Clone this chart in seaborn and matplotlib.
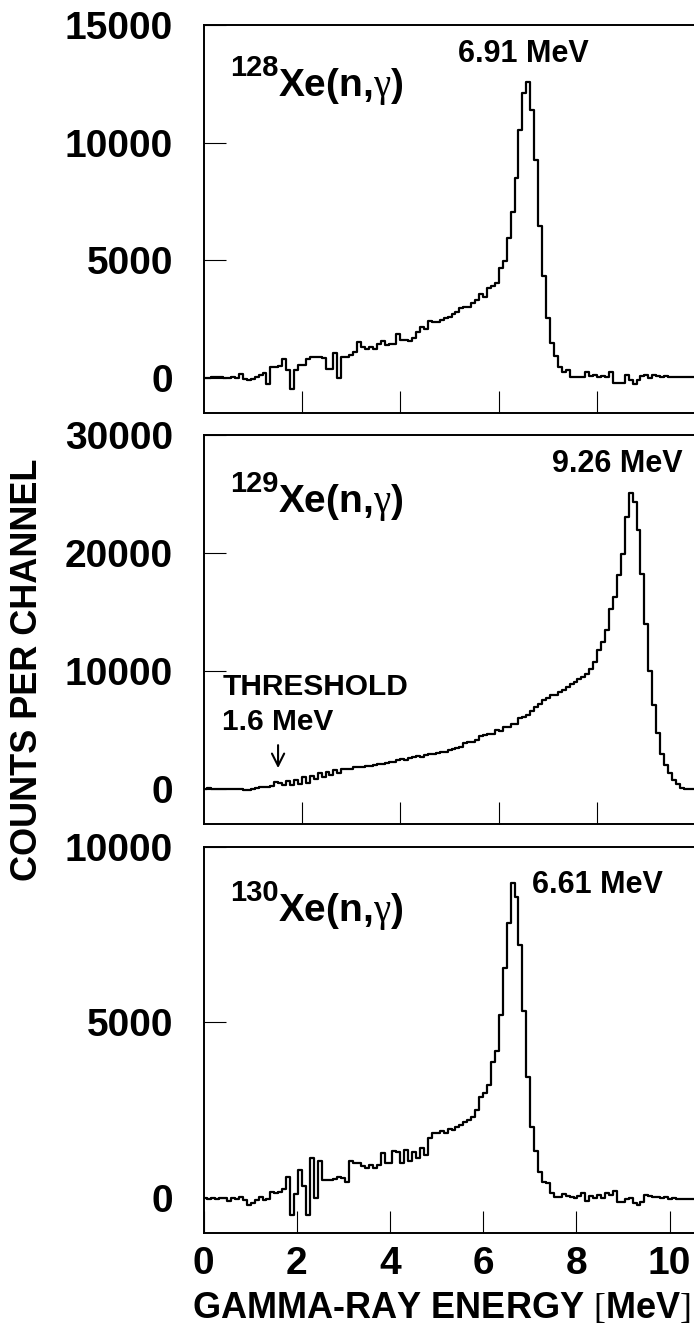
import numpy as np
import pandas as pd
import matplotlib
matplotlib.use("Agg")
import matplotlib.pyplot as plt
from matplotlib import font_manager
import seaborn as sns

# ---------------- data (counts per channel) ----------------
CHANNEL_WIDTH_MEV = 0.08448   # 125 channels over 0 .. 10.56 MeV

xe128_counts = [
    0, 0, 15, 30, 40, 0, -15, 15, 0, 140,
    -45, -100, -70, 15, 100, 185, -270, 440, 440, 510,
    780, 330, -500, 330, 540, 540, 780, 895, 865, 865,
    850, 380, 380, 1035, -30, 895, 865, 965, 1105, 1530,
    1320, 1235, 1320, 1235, 1435, 1575, 1390, 1435, 1435, 1860,
    1605, 1605, 1575, 1700, 1955, 2170, 2055, 2425, 2385, 2385,
    2455, 2550, 2600, 2700, 2810, 2955, 3025, 3025, 3165, 3310,
    3565, 3450, 3805, 3905, 4015, 4655, 4980, 5930, 7065, 8485,
    10540, 12100, 12595, 11390, 9265, 6455, 4340, 2525, 1490, 920,
    470, 255, 325, 45, 45, 45, 15, 255, 70, 115,
    45, 70, 45, 255, -240, -240, -240, 115, -100, -285,
    -100, 70, 115, -30, 115, 70, 15, 70, 45, 15,
    15, 15, 15, 15, 15,
]

xe129_counts = [
    0, 15, -10, 10, 0, -20, 10, 0, -30, -40,
    -80, -100, -60, 60, 120, 150, 100, 200, 550, 520,
    300, 620, 350, 700, 420, 950, 500, 1100, 800, 1350,
    950, 1450, 1150, 1550, 1300, 1650, 1700, 1650, 1800, 1850,
    1800, 1950, 1900, 2000, 2100, 2050, 2200, 2300, 2250, 2400,
    2500, 2450, 2600, 2650, 2750, 2700, 2850, 2950, 2900, 3050,
    3150, 3100, 3250, 3325, 3405, 3545, 3885, 3970, 3970, 4115,
    4450, 4510, 4620, 4620, 5015, 4905, 5245, 5245, 5470, 5525,
    5950, 6090, 6235, 6600, 6940, 7140, 7505, 7730, 7930, 7930,
    8210, 8355, 8635, 8860, 9060, 9260, 9430, 9765, 10190, 10755,
    11745, 12450, 13440, 15280, 16265, 18105, 19940, 23050, 25115, 24320,
    21920, 18245, 14005, 9995, 7080, 4680, 2980, 1995, 1285, 775,
    380, 15, 0, 0, 0,
]

xe130_counts = [
    -10, -20, -10, -30, 0, -10, -90, 0, -20, 25,
    -60, -200, -135, -60, 25, -60, -40, 175, 130, 175,
    240, 600, -480, 100, 800, 350, -480, 1150, 0, 1050,
    500, 510, 510, 530, 590, 555, 460, 1060, 1005, 985,
    910, 840, 935, 840, 935, 1290, 985, 985, 1345, 1310,
    1000, 1365, 1050, 1320, 1150, 1410, 1225, 1700, 1840, 1840,
    1915, 1860, 1950, 1935, 2030, 2080, 2170, 2220, 2315, 2505,
    2885, 3000, 3220, 3880, 4195, 5215, 6545, 7825, 8985, 8585,
    7210, 5335, 3455, 2030, 1345, 745, 460, 415, 150, 35,
    20, 110, 60, 20, -10, 60, 130, -80, 60, -10,
    85, -10, 130, 85, 195, -105, -105, -40, -10, -155,
    -200, -105, 85, 60, 20, 35, -10, 20, -40, -10,
    -40, -30, -20, -30, -20,
]

isotopes = ["128", "129", "130"]
peak_labels = ["6.91 MeV", "9.26 MeV", "6.61 MeV"]
y_tick_values = [[0, 5000, 10000, 15000], [0, 10000, 20000, 30000], [0, 5000, 10000]]
y_limits = [(-1500, 15000), (-3000, 30000), (-1000, 10000)]
x_tick_values = [0, 2, 4, 6, 8, 10]
upper_x_tick_values = [2.112, 4.224, 6.336, 8.448]
threshold_energy = 1.6
threshold_text = ["THRESHOLD", "1.6 MeV"]
x_title = r"GAMMA-RAY ENERGY $\mathrm{[}$MeV$\mathrm{]}$"
y_title = "COUNTS PER CHANNEL"

# ---------------- style ----------------
sns.set_theme(style="white")
plt.rcParams["font.family"] = ["Liberation Sans", "DejaVu Sans"]
plt.rcParams["mathtext.fontset"] = "custom"
plt.rcParams["mathtext.rm"] = "Liberation Serif"
plt.rcParams["mathtext.it"] = "Liberation Serif:italic"
plt.rcParams["mathtext.bf"] = "Liberation Sans:bold"
for key in ["text.color", "axes.labelcolor", "xtick.color", "ytick.color",
            "xtick.labelcolor", "ytick.labelcolor", "axes.edgecolor"]:
    plt.rcParams[key] = "black"

installed = {f.name for f in font_manager.fontManager.ttflist}
if "Liberation Sans Narrow" in installed:
    ylab_family, ylab_size = ["Liberation Sans Narrow", "Liberation Sans"], 31
else:
    ylab_family, ylab_size = ["Liberation Sans", "DejaVu Sans"], 26

W, H = 694, 1326
fig = plt.figure(figsize=(W / 100, H / 100), dpi=100)
fig.patch.set_facecolor("white")

left_px, right_px = 203.5, 695.6
panels_px = [(25, 413), (435, 824), (847, 1233)]

all_counts = [xe128_counts, xe129_counts, xe130_counts]
n_ch = len(xe128_counts)
edges = np.arange(n_ch + 1) * CHANNEL_WIDTH_MEV

# label positions (data coords)
peak_label_pos = [(5.46, 13430), (7.48, 26900), (7.06, 8680)]
iso_label_pos = [(1.60, 11960), (1.60, 23450), (1.60, 7890)]

axes = []
for i, counts in enumerate(all_counts):
    top, bot = panels_px[i]
    ax = fig.add_axes([left_px / W, 1 - bot / H, (right_px - left_px) / W, (bot - top) / H])
    axes.append(ax)
    # step outline: each channel value held from its left edge to the next edge
    df = pd.DataFrame({"energy": edges, "counts": list(counts) + [counts[-1]]})
    sns.lineplot(data=df, x="energy", y="counts", drawstyle="steps-post",
                 estimator=None, sort=False, color="black", linewidth=1.6, ax=ax)
    ax.set_xlim(0, n_ch * CHANNEL_WIDTH_MEV)
    ax.set_ylim(*y_limits[i])
    ax.set_yticks(y_tick_values[i])
    ax.set_yticklabels([str(v) for v in y_tick_values[i]], fontsize=28, fontweight="bold")
    if i < 2:
        ax.set_xticks(upper_x_tick_values)
        ax.set_xticklabels([])
    else:
        ax.set_xticks(x_tick_values)
        ax.set_xticklabels([str(v) for v in x_tick_values], fontsize=28, fontweight="bold")
    ax.tick_params(axis="y", direction="in", length=16, width=0.8, color="black",
                   labelcolor="black", pad=22, left=True)
    ax.tick_params(axis="x", direction="in", length=16, width=0.8, color="black",
                   labelcolor="black", pad=9, bottom=True)
    ax.set_xlabel("")
    ax.set_ylabel("")
    for s in ["top", "left", "bottom"]:
        ax.spines[s].set_color("black")
        ax.spines[s].set_linewidth(1.4)
    ax.spines["right"].set_visible(False)
    ax.grid(False)

    ax.text(*peak_label_pos[i], peak_labels[i], fontsize=22, fontweight="bold",
            color="black", ha="left", va="baseline")
    main_xy = iso_label_pos[i]
    ax.text(*main_xy, r"$\mathbf{Xe(n{,}}\mathrm{\gamma}\mathbf{)}$",
            fontsize=28, color="black", ha="left", va="baseline")
    ax.annotate(isotopes[i], xy=main_xy, xytext=(-48, 20), textcoords="offset pixels",
                fontsize=21, fontweight="bold", color="black", ha="left", va="baseline")

# threshold annotation on middle panel
ax2 = axes[1]
ax2.text(0.40, 7930, threshold_text[0], fontsize=21.5, fontweight="bold",
         color="black", ha="left", va="baseline")
ax2.text(0.39, 4960, threshold_text[1], fontsize=21.5, fontweight="bold",
         color="black", ha="left", va="baseline")
ax2.annotate("", xy=(threshold_energy, 1740), xytext=(threshold_energy, 3690),
             arrowprops=dict(arrowstyle="->", color="black", lw=1.5,
                             mutation_scale=22, shrinkA=0, shrinkB=0))

fig.text(441.5 / W, 1 - 1318 / H, x_title, fontsize=26, fontweight="bold",
         color="black", ha="center", va="baseline")
fig.text(28 / W, 1 - 670 / H, y_title, fontsize=ylab_size, fontweight="bold",
         family=ylab_family, color="black", rotation=90, ha="center", va="center")

fig.savefig("out.png", dpi=100, facecolor="white")
